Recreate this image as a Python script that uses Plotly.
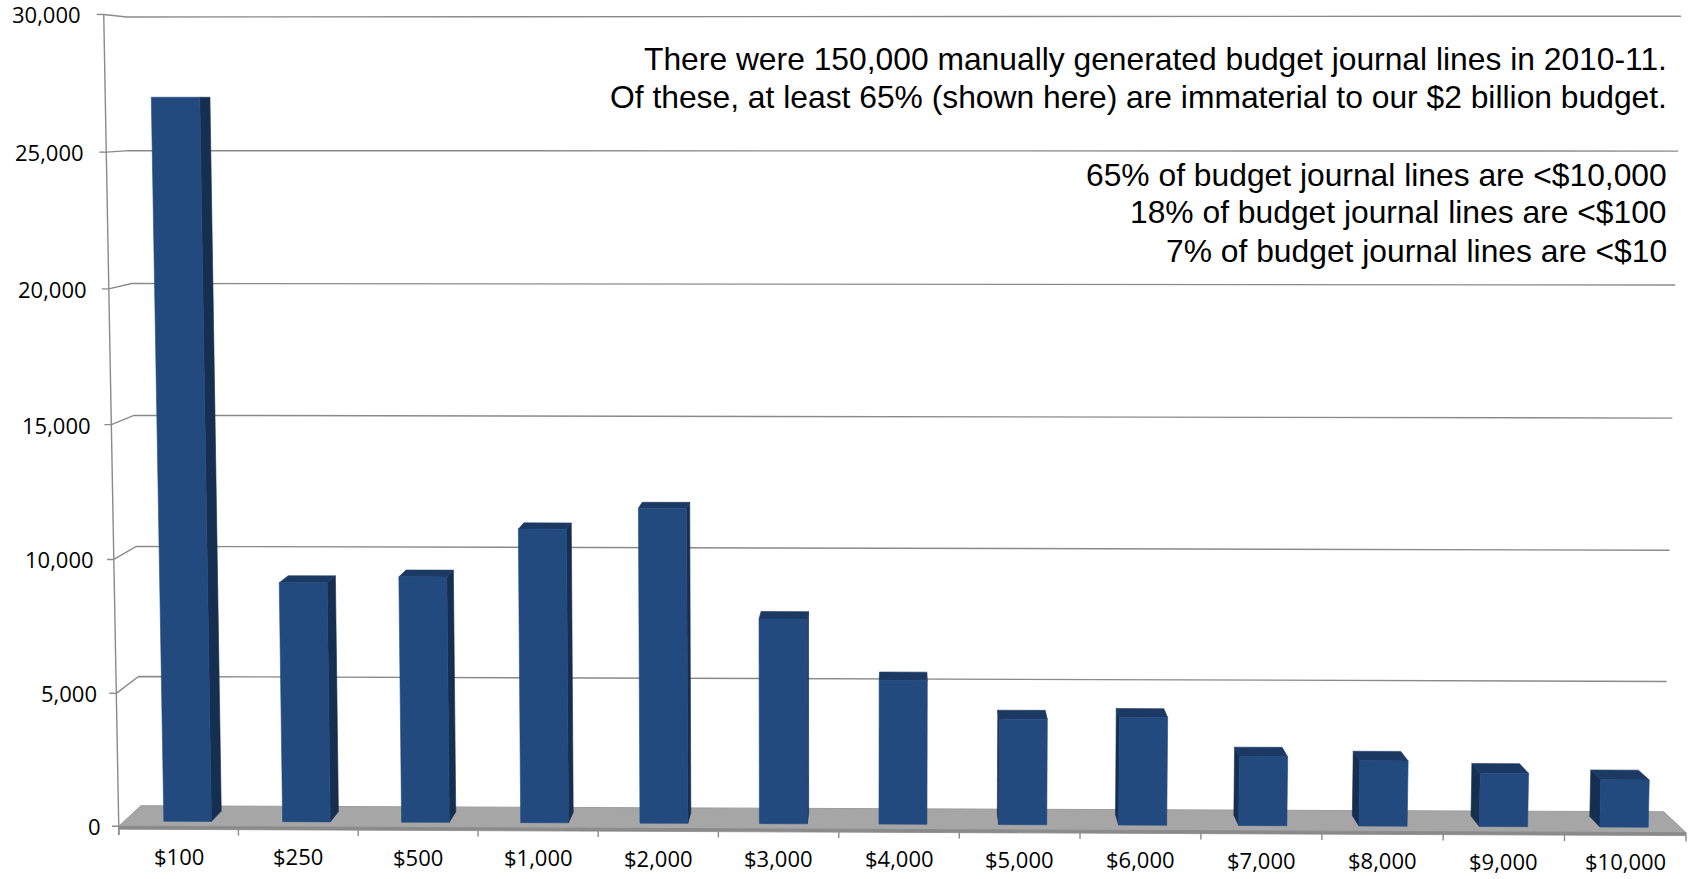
import numpy as np
import plotly.graph_objects as go

# ---------------- data ----------------
categories = ["$100", "$250", "$500", "$1,000", "$2,000", "$3,000", "$4,000",
              "$5,000", "$6,000", "$7,000", "$8,000", "$9,000", "$10,000"]
journal_lines = [27000, 9020, 9250, 11050, 11840, 7710, 5420,
                 3980, 4060, 2600, 2460, 2010, 1780]
y_tick_values = [0, 5000, 10000, 15000, 20000, 25000, 30000]
y_tick_labels = ["0", "5,000", "10,000", "15,000", "20,000", "25,000", "30,000"]
y_max = 30000
notes_top = ["There were 150,000 manually generated budget journal lines in 2010-11.",
             "Of these, at least 65% (shown here) are immaterial to our $2 billion budget."]
notes_bottom = ["65% of budget journal lines are <$10,000",
                "18% of budget journal lines are <$100",
                "7% of budget journal lines are <$10"]

# ---------------- 3-D view (style) ----------------
F = 3555.0
PITCH = np.arctan(0.0917)
YAW = 0.02
CAM_X, CAM_Y, CAM_Z = 795.0, -3555.0, 737.0
CX, CY = 829.0, 426.0
CAT_W = 122.3
BAR_W = 49.0
BAR_DX = 4.0
BAR_Y0, BAR_Y1 = 26.5, 79.5
FLOOR_D = 106.0
FLOOR_T = 3.0
Z_PER_UNIT = 0.0274

FRONT = "#224A7F"
SIDE = "#162E4F"
TOP = "#1B3963"
GRID = "#8A8A8A"
FLOOR = "#A6A6A6"

sp, cp = np.sin(PITCH), np.cos(PITCH)
sw, cw = np.sin(YAW), np.cos(YAW)


def project(X, Y, Z):
    a = X - CAM_X
    b = Y - CAM_Y
    c = Z - CAM_Z
    fz = -a * cp * sw + b * cp * cw - c * sp
    rx = a * cw + b * sw
    uy = -a * sp * sw + b * sp * cw + c * cp
    return CX + F * rx / fz, CY - F * uy / fz


def poly(pts):
    xs, ys = [], []
    for p in pts:
        x, y = project(*p)
        xs.append(x)
        ys.append(y)
    xs.append(xs[0])
    ys.append(ys[0])
    return xs, ys


fig = go.Figure()


def add_poly(pts, color, line_color=None, lw=0.6):
    xs, ys = poly(pts)
    fig.add_trace(go.Scatter(x=xs, y=ys, mode="lines", fill="toself",
                             fillcolor=color,
                             line=dict(color=line_color or color, width=lw),
                             hoverinfo="skip", showlegend=False))


def add_lines(segments, color, width):
    xs, ys = [], []
    for seg in segments:
        for p in seg:
            x, y = project(*p)
            xs.append(x)
            ys.append(y)
        xs.append(None)
        ys.append(None)
    fig.add_trace(go.Scatter(x=xs, y=ys, mode="lines",
                             line=dict(color=color, width=width),
                             hoverinfo="skip", showlegend=False))


n = len(categories)
X_MAX = n * CAT_W

# gridlines on side and back wall
grid_segs = []
for v in y_tick_values[1:]:
    z = v * Z_PER_UNIT
    grid_segs.append([(0, 0, z), (0, FLOOR_D, z), (X_MAX, FLOOR_D, z)])
add_lines(grid_segs, GRID, 1.4)

# floor
add_poly([(0, 0, 0), (X_MAX, 0, 0), (X_MAX, FLOOR_D, 0), (0, FLOOR_D, 0)], FLOOR, "#9C9C9C", 1)
add_poly([(0, 0, 0), (X_MAX, 0, 0), (X_MAX, 0, -FLOOR_T), (0, 0, -FLOOR_T)], "#8A8A8A", "#8A8A8A", 0.8)

# bars
for i, v in enumerate(journal_lines):
    xc = (i + 0.5) * CAT_W + BAR_DX
    x0, x1 = xc - BAR_W / 2, xc + BAR_W / 2
    z = v * Z_PER_UNIT
    if x1 < CAM_X:
        add_poly([(x1, BAR_Y0, 0), (x1, BAR_Y1, 0), (x1, BAR_Y1, z), (x1, BAR_Y0, z)], SIDE)
    if x0 > CAM_X:
        add_poly([(x0, BAR_Y0, 0), (x0, BAR_Y1, 0), (x0, BAR_Y1, z), (x0, BAR_Y0, z)], SIDE)
    if z < CAM_Z:
        add_poly([(x0, BAR_Y0, z), (x1, BAR_Y0, z), (x1, BAR_Y1, z), (x0, BAR_Y1, z)], TOP)
    add_poly([(x0, BAR_Y0, 0), (x1, BAR_Y0, 0), (x1, BAR_Y0, z), (x0, BAR_Y0, z)], FRONT)

# value axis line and ticks
z_top = y_max * Z_PER_UNIT
add_lines([[(0, 0, -FLOOR_T - 6), (0, 0, z_top)]], GRID, 1.4)
add_lines([[(-7, 0, v * Z_PER_UNIT), (0, 0, v * Z_PER_UNIT)] for v in y_tick_values], GRID, 1.4)
# category axis ticks
add_lines([[(k * CAT_W, 0, -FLOOR_T), (k * CAT_W, 0, -FLOOR_T - 6)] for k in range(n + 1)], GRID, 1.4)

tick_font = dict(family="Open Sans, DejaVu Sans", size=22, color="#000000")
annotations = []
for v, lab in zip(y_tick_values, y_tick_labels):
    x, y = project(0, 0, v * Z_PER_UNIT)
    gap = 21 - 5 * (1 - v / y_max)
    annotations.append(dict(x=x - gap, y=y, text=lab, xref="x", yref="y",
                            xanchor="right", yanchor="middle", showarrow=False,
                            font=tick_font))
for i, lab in enumerate(categories):
    x, y = project((i + 0.5) * CAT_W, 0, 0)
    annotations.append(dict(x=x, y=y + 29, text=lab, xref="x", yref="y",
                            xanchor="center", yanchor="middle", showarrow=False,
                            font=tick_font))

note_font = dict(family="Liberation Sans, Arial", size=31.8, color="#000000")
for txt, yy in zip(notes_top, [59, 97]):
    annotations.append(dict(x=1669, y=yy, text=txt, xref="x", yref="y",
                            xanchor="right", yanchor="middle", showarrow=False, font=note_font))
for txt, yy in zip(notes_bottom, [175, 212, 251]):
    annotations.append(dict(x=1669, y=yy, text=txt, xref="x", yref="y",
                            xanchor="right", yanchor="middle", showarrow=False, font=note_font))

fig.update_layout(
    width=1690, height=879,
    margin=dict(l=0, r=0, t=0, b=0),
    paper_bgcolor="white", plot_bgcolor="white",
    xaxis=dict(range=[0, 1690], visible=False, fixedrange=True),
    yaxis=dict(range=[879, 0], visible=False, fixedrange=True),
    annotations=annotations,
    showlegend=False,
)

fig.write_html("out.html")
